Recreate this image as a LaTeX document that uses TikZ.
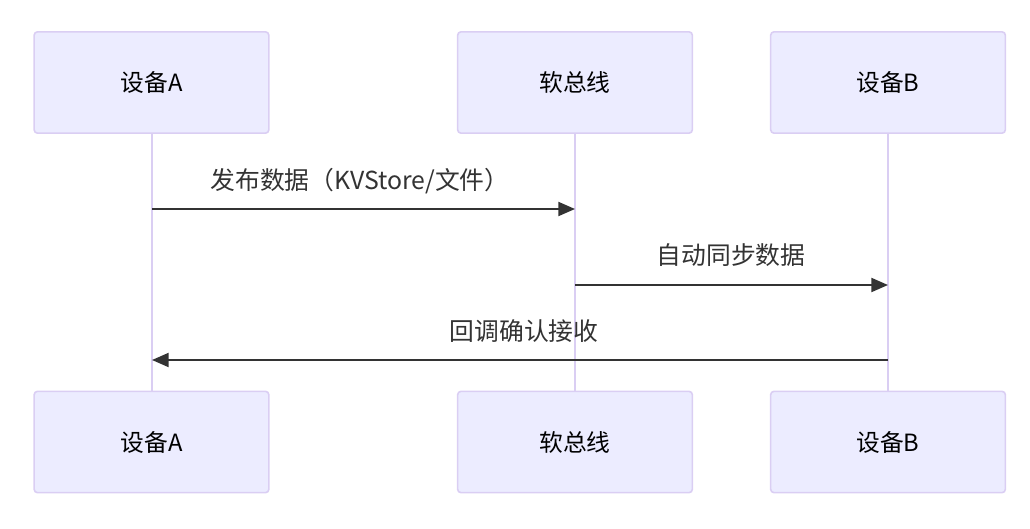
\documentclass[tikz,border=0pt]{standalone}
\usepackage{fontspec}
\setmainfont{Noto Sans CJK SC}
\usetikzlibrary{arrows.meta}
\definecolor{actfill}{HTML}{ECECFF}
\definecolor{actline}{HTML}{DACEF3}
\definecolor{ink}{HTML}{333333}
\tikzset{
  actor/.style={draw=actline, fill=actfill, line width=1.2pt, rounded corners=2.5pt,
    minimum width=176pt, minimum height=76pt, inner sep=0pt, font=\fontsize{17.8}{20}\selectfont, text=black},
  lifeline/.style={draw=actline, line width=2pt},
  msg/.style={draw=ink, line width=1.5pt, -{Triangle[length=12.5pt,width=10.5pt]}},
  msglabel/.style={font=\fontsize{18.6}{21}\selectfont, text=ink, inner sep=0pt}
}
\begin{document}
\begin{tikzpicture}[x=0.75pt,y=-0.75pt]
\useasboundingbox (0,0) rectangle (1030,528);
% lifelines
\coordinate (la1) at (152,133); \coordinate (la2) at (152,391);
\coordinate (lb1) at (575,133); \coordinate (lb2) at (575,391);
\coordinate (lc1) at (888,133); \coordinate (lc2) at (888,391);
\draw[lifeline] (la1) -- (la2);
\draw[lifeline] (lb1) -- (lb2);
\draw[lifeline] (lc1) -- (lc2);
% actors
\node[actor] (at) at (151.5,82.5) {设备A};
\node[actor] (bt) at (575,82.5) {软总线};
\node[actor] (ct) at (888,82.5) {设备B};
\node[actor] (ab) at (151.5,442) {设备A};
\node[actor] (bb) at (575,442) {软总线};
\node[actor] (cb) at (888,442) {设备B};
% messages
\coordinate (m1s) at (152,209); \coordinate (m1e) at (575,209);
\coordinate (m2s) at (575,285); \coordinate (m2e) at (888,285);
\coordinate (m3s) at (888,360); \coordinate (m3e) at (152,360);
\draw[msg] (m1s) -- (m1e);
\draw[msg] (m2s) -- (m2e);
\draw[msg] (m3s) -- (m3e);
\node[msglabel] (t1) at (360,181) {发布数据（KVStore/文件）};
\node[msglabel] (t2) at (731,255) {自动同步数据};
\node[msglabel] (t3) at (524,331) {回调确认接收};
\end{tikzpicture}
\end{document}
